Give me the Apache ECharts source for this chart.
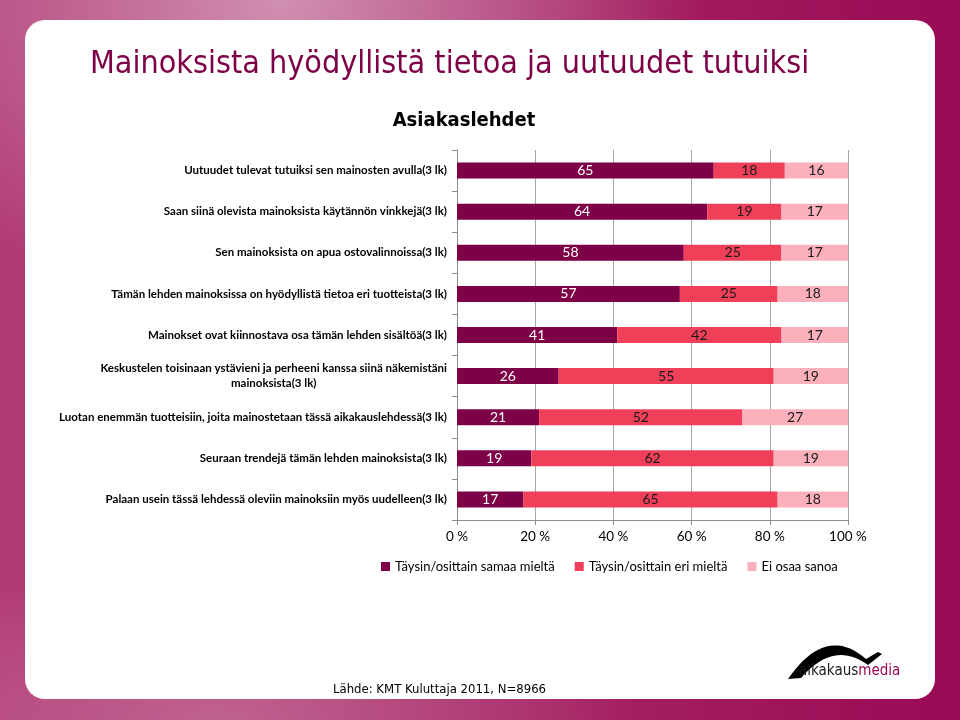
<!DOCTYPE html>
<html>
<head>
<meta charset="utf-8">
<script src="https://cdn.jsdelivr.net/npm/echarts@6/dist/echarts.min.js"></script>
<style>
html,body{margin:0;padding:0;width:960px;height:720px;overflow:hidden;}
body{
  background:
    radial-gradient(ellipse 420px 330px at 280px 0px, rgba(215,160,190,0.85), rgba(215,160,190,0) 100%),
    radial-gradient(ellipse 420px 160px at 220px 720px, rgba(200,120,160,0.7), rgba(200,120,160,0) 100%),
    linear-gradient(90deg, #b13a74 0%, #a82a68 45%, #9a0a55 100%);
}
#card{position:absolute;left:25px;top:20px;width:910px;height:679px;background:#fff;border-radius:20px;}
#main{position:absolute;left:0;top:0;width:960px;height:720px;}
</style>
</head>
<body>
<div id="card"></div>
<div id="main"></div>
<script>
var categories = [
  'Uutuudet tulevat tutuiksi sen mainosten avulla(3 lk)',
  'Saan siinä olevista mainoksista käytännön vinkkejä(3 lk)',
  'Sen mainoksista on apua ostovalinnoissa(3 lk)',
  'Tämän lehden mainoksissa on hyödyllistä tietoa eri tuotteista(3 lk)',
  'Mainokset ovat kiinnostava osa tämän lehden sisältöä(3 lk)',
  'Keskustelen toisinaan ystävieni ja perheeni kanssa siinä näkemistäni\nmainoksista(3 lk)',
  'Luotan enemmän tuotteisiin, joita mainostetaan tässä aikakauslehdessä(3 lk)',
  'Seuraan trendejä tämän lehden mainoksista(3 lk)',
  'Palaan usein tässä lehdessä oleviin mainoksiin myös uudelleen(3 lk)'
];
var samaa = [65, 64, 58, 57, 41, 26, 21, 19, 17];
var eri   = [18, 19, 25, 25, 42, 55, 52, 62, 65];
var eos   = [16, 17, 17, 18, 17, 19, 27, 19, 18];
var seriesNames = ['Täysin/osittain samaa mieltä', 'Täysin/osittain eri mieltä', 'Ei osaa sanoa'];
var xTicks = [0, 20, 40, 60, 80, 100];

var raw = [samaa, eri, eos];
var colors = ['#7e0047', '#ef3f59', '#fcb0bc'];
var labelColors = ['#ffffff', '#1a1a1a', '#1a1a1a'];
function pct(arr, i) { var s = samaa[i] + eri[i] + eos[i]; return arr[i] / s * 100; }

// logo swoosh outline (decoration only)
function quad(p0, p1, p2, n) {
  var pts = [];
  for (var i = 0; i <= n; i++) {
    var t = i / n, a = (1 - t) * (1 - t), b = 2 * (1 - t) * t, c = t * t;
    pts.push([a * p0[0] + b * p1[0] + c * p2[0], a * p0[1] + b * p1[1] + c * p2[1]]);
  }
  return pts;
}
var outer = quad([788, 679], [826, 624], [866, 659], 20);
var inner = quad([868, 665], [834, 640], [801, 678], 20);
var swoosh = outer.concat([[878, 652], [882, 654]]).concat(inner);

var chart = echarts.init(document.getElementById('main'), null, {renderer: 'canvas'});
var series = raw.map(function (arr, k) {
  return {
    name: seriesNames[k],
    type: 'bar',
    stack: 'total',
    barWidth: 16,
    itemStyle: {color: colors[k]},
    label: {
      show: true,
      position: 'inside',
      color: labelColors[k],
      fontFamily: 'Lato',
      fontSize: 14,
      formatter: function (p) { return String(arr[p.dataIndex]); }
    },
    emphasis: {disabled: true},
    data: arr.map(function (v, i) { return pct(arr, i); })
  };
});

chart.setOption({
  animation: false,
  backgroundColor: 'transparent',
  title: [
    {text: 'Mainoksista hyödyllistä tietoa ja uutuudet tutuiksi', left: 85, top: 44,
     textStyle: {fontFamily: 'DejaVu Sans Condensed', fontWeight: 'normal', fontSize: 32, color: '#7e0047'}},
    {text: 'Asiakaslehdet', left: 459, top: 106, textAlign: 'center',
     textStyle: {fontFamily: 'DejaVu Sans Condensed', fontWeight: 'bold', fontSize: 20, color: '#000'}}
  ],
  legend: {
    top: 555, left: 376,
    itemWidth: 9, itemHeight: 9, itemGap: 20, icon: 'rect',
    textStyle: {fontFamily: 'Lato', fontSize: 13, color: '#000'},
    data: seriesNames
  },
  grid: {left: 457, right: 112, top: 150, bottom: 200, containLabel: false},
  xAxis: {
    type: 'value', min: 0, max: 100, interval: 20,
    axisLine: {show: true, lineStyle: {color: '#8c8c8c'}},
    axisTick: {show: true, length: 5, lineStyle: {color: '#8c8c8c'}},
    splitLine: {show: true, lineStyle: {color: '#a6a6a6', width: 1}},
    axisLabel: {fontFamily: 'Lato', fontSize: 13.5, color: '#000', margin: 10,
      formatter: function (v) { return xTicks.indexOf(v) >= 0 ? v + ' %' : ''; }}
  },
  yAxis: {
    type: 'category', inverse: true, data: categories,
    axisLine: {show: true, lineStyle: {color: '#8c8c8c'}},
    axisTick: {show: true, length: 5, lineStyle: {color: '#8c8c8c'}},
    axisLabel: {
      margin: 10, align: 'right',
      formatter: function (v) { return v.split('\n').map(function (l) { return '{c|' + l + '}'; }).join('\n'); },
      rich: {c: {align: 'center', fontFamily: 'Lato', fontWeight: 'bold', fontSize: 11.5, color: '#000', lineHeight: 15}}
    }
  },
  graphic: [
    {type: 'text', left: 333, top: 683,
     style: {text: 'Lähde: KMT Kuluttaja 2011, N=8966', fontFamily: 'DejaVu Sans Condensed', fontSize: 13, fill: '#000'}},
    {type: 'polygon', shape: {points: swoosh}, style: {fill: '#000'}},
    {type: 'text', left: 799, top: 664,
     style: {text: '{a|aıkakaus}{b|media}',
       rich: {a: {fontFamily: 'DejaVu Sans Condensed', fontSize: 15, fill: '#1a1a1a', color: '#1a1a1a'},
              b: {fontFamily: 'DejaVu Sans Condensed', fontSize: 15, fill: '#9a0a55', color: '#9a0a55'}}}}
  ],
  series: series
});
</script>
</body>
</html>
